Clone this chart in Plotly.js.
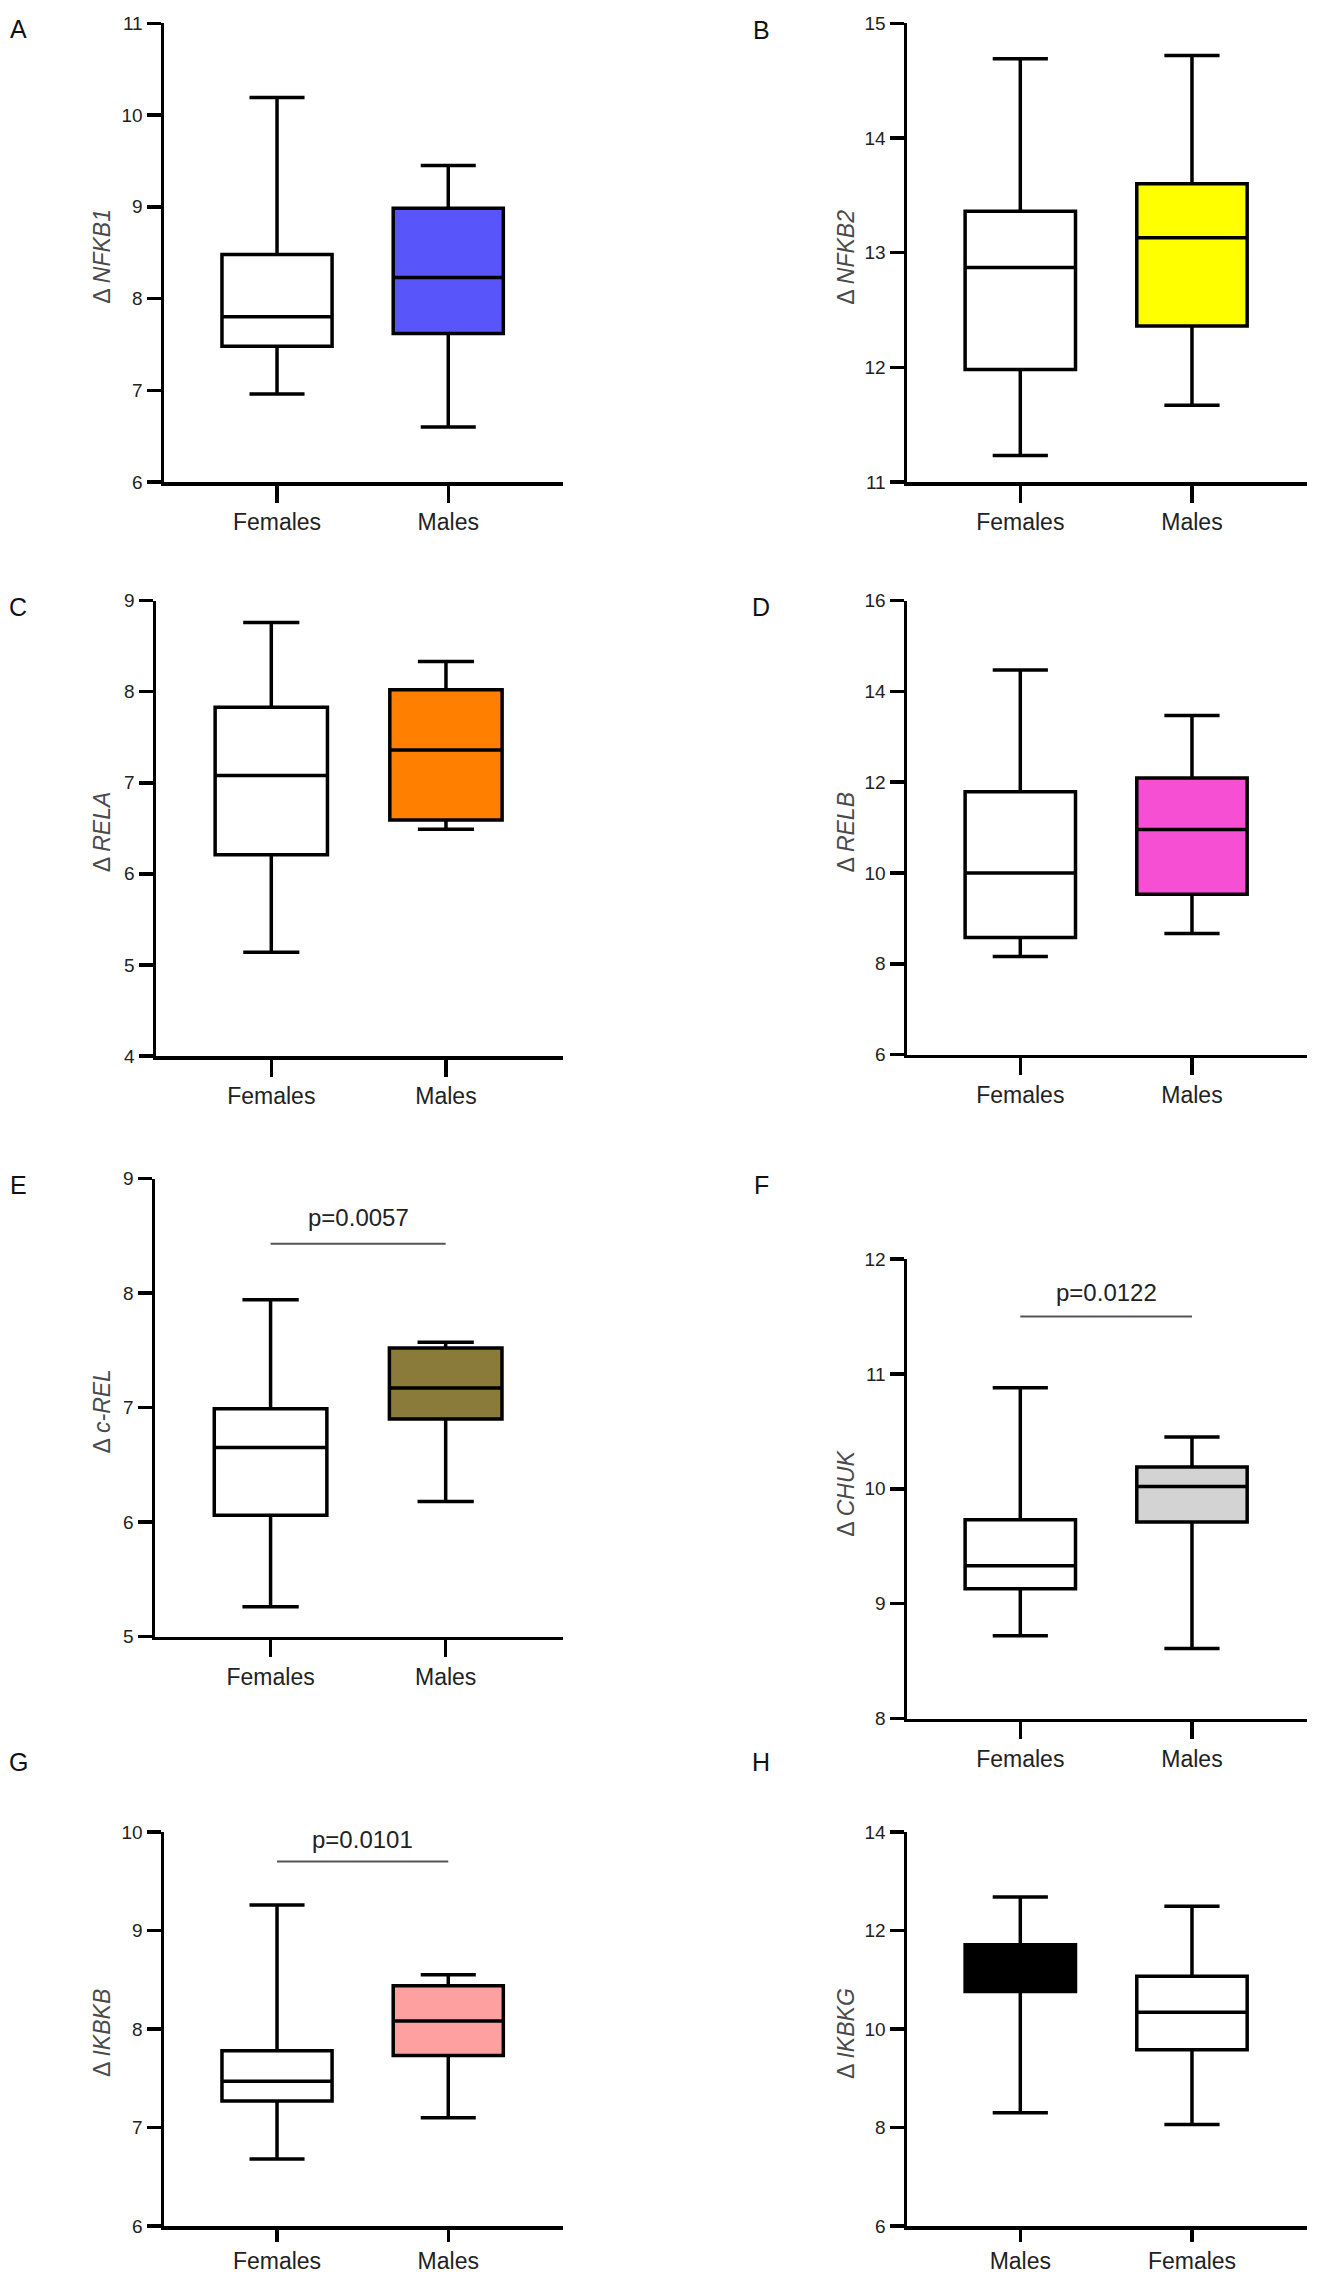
<!DOCTYPE html>
<html>
<head>
<meta charset="utf-8">
<script src="https://cdn.plot.ly/plotly-3.0.1.min.js"></script>
<style>
  html, body { margin: 0; padding: 0; background: #fff; }
  #chart { width: 1318px; height: 2275px; }
</style>
</head>
<body>
<div id="chart"></div>
<script>
// panel data
const panelLetters = ["A", "B", "C", "D", "E", "F", "G", "H"];
const genes = ["NFKB1", "NFKB2", "RELA", "RELB", "c-REL", "CHUK", "IKBKB", "IKBKG"];
const groupOrder = [
  ["Females", "Males"], ["Females", "Males"], ["Females", "Males"], ["Females", "Males"],
  ["Females", "Males"], ["Females", "Males"], ["Females", "Males"], ["Males", "Females"]
];

const femalesLow  = [6.96, 11.23, 5.14, 8.16, 5.26, 8.72, 6.68, 8.06];
const femalesQ1   = [7.48, 11.98, 6.21, 8.58, 6.06, 9.13, 7.27, 9.58];
const femalesMed  = [7.80, 12.87, 7.08, 10.00, 6.65, 9.33, 7.47, 10.34];
const femalesQ3   = [8.48, 13.36, 7.83, 11.79, 6.99, 9.73, 7.78, 11.07];
const femalesHigh = [10.19, 14.69, 8.76, 14.47, 7.94, 10.88, 9.26, 12.49];

const malesLow  = [6.60, 11.67, 6.49, 8.67, 6.18, 8.61, 7.10, 8.30];
const malesQ1   = [7.62, 12.36, 6.59, 9.53, 6.90, 9.71, 7.73, 10.76];
const malesMed  = [8.23, 13.13, 7.36, 10.96, 7.17, 10.02, 8.08, 11.20];
const malesQ3   = [8.985, 13.60, 8.02, 12.09, 7.52, 10.19, 8.44, 11.71];
const malesHigh = [9.45, 14.72, 8.33, 13.47, 7.57, 10.45, 8.55, 12.68];

const malesFill = ["#5855fb", "#ffff00", "#ff8000", "#f64fd4", "#8b7b3a", "#d3d3d3", "#ffa0a0", "#000000"];

const yMin  = [6, 11, 4, 6, 5, 8, 6, 6];
const yMax  = [11, 15, 9, 16, 9, 12, 10, 14];
const yStep = [1, 1, 1, 2, 1, 1, 1, 2];

const pText  = [null, null, null, null, "p=0.0057", "p=0.0122", "p=0.0101", null];
const pLineY = [null, null, null, null, 8.43, 11.50, 9.70, null];
const pTextY = [null, null, null, null, 8.66, 11.71, 9.92, null];

// layout geometry in pixels: [axis x, axis end x, top tick y, bottom tick y, x tick length]
const W = 1318, H = 2275;
const panelPx = [
  [164, 563, 23.3, 482, 17],
  [907, 1307, 23.3, 482, 17],
  [156, 563, 600.6, 1056, 17],
  [907, 1307, 600.6, 1054.6, 17],
  [155, 563, 1178.5, 1636.5, 17],
  [907, 1307, 1259, 1718.5, 17],
  [164, 563, 1832, 2226, 12],
  [907, 1307, 1832, 2226, 12]
];
const titleX = [102, 846];
const letterPos = [[18, 29], [761, 30], [18, 607], [761, 607], [18, 1185], [761, 1185], [18, 1762], [761, 1762]];

const fontFam = "Liberation Sans, Arial, sans-serif";
const lineW = 3.5;
const xRange = [-0.66, 1.67];

const traces = [];
const layout = {
  width: W,
  height: H,
  margin: {l: 0, r: 0, t: 0, b: 0},
  paper_bgcolor: "#fff",
  plot_bgcolor: "rgba(0,0,0,0)",
  showlegend: false,
  boxmode: "overlay",
  font: {family: fontFam, color: "#222"},
  annotations: [],
  shapes: []
};

const boxTrace = (xa, ya, name, low, q1, med, q3, high, fill) => ({
  type: "box",
  x: [name],
  q1: [q1], median: [med], q3: [q3],
  lowerfence: [low], upperfence: [high],
  xaxis: xa, yaxis: ya,
  width: 0.643,
  whiskerwidth: 0.5,
  fillcolor: fill,
  line: {color: "#000", width: lineW},
  boxpoints: false,
  hoverinfo: "skip"
});

for (let i = 0; i < genes.length; i++) {
  const n = i === 0 ? "" : String(i + 1);
  const xa = "x" + n, ya = "y" + n;
  const [x0, x1, yt, yb, tl] = panelPx[i];

  for (const grp of groupOrder[i]) {
    if (grp === "Females") {
      traces.push(boxTrace(xa, ya, grp, femalesLow[i], femalesQ1[i], femalesMed[i], femalesQ3[i], femalesHigh[i], "#ffffff"));
    } else {
      traces.push(boxTrace(xa, ya, grp, malesLow[i], malesQ1[i], malesMed[i], malesQ3[i], malesHigh[i], malesFill[i]));
    }
  }

  layout["xaxis" + n] = {
    domain: [x0 / W, x1 / W],
    anchor: ya,
    type: "category",
    categoryorder: "array",
    categoryarray: groupOrder[i],
    range: xRange,
    fixedrange: true,
    showline: true, linecolor: "#000", linewidth: lineW,
    ticks: "outside", ticklen: tl, tickwidth: lineW, tickcolor: "#000",
    tickfont: {size: 23, color: "#222", family: fontFam},
    showgrid: false, zeroline: false
  };
  layout["yaxis" + n] = {
    domain: [1 - yb / H, 1 - yt / H],
    anchor: xa,
    range: [yMin[i], yMax[i]],
    tick0: yMin[i], dtick: yStep[i],
    fixedrange: true,
    showline: true, linecolor: "#000", linewidth: lineW,
    ticks: "outside", ticklen: 14, tickwidth: lineW, tickcolor: "#000",
    tickfont: {size: 19, color: "#222", family: fontFam},
    showgrid: false, zeroline: false
  };

  // y axis title
  layout.annotations.push({
    xref: "paper", yref: "paper",
    x: titleX[i % 2] / W, y: 1 - ((yt + yb) / 2 + 4) / H,
    text: "\u0394 <i>" + genes[i] + "</i>",
    textangle: -90, showarrow: false,
    xanchor: "center", yanchor: "middle",
    font: {size: 23, color: "#4a4a4a", family: fontFam}
  });

  // panel letter
  layout.annotations.push({
    xref: "paper", yref: "paper",
    x: letterPos[i][0] / W, y: 1 - letterPos[i][1] / H,
    text: panelLetters[i], showarrow: false,
    xanchor: "center", yanchor: "middle",
    font: {size: 25, color: "#111", family: fontFam}
  });

  if (pText[i]) {
    layout.shapes.push({
      type: "line", xref: xa, yref: ya,
      x0: 0, x1: 1, y0: pLineY[i], y1: pLineY[i],
      line: {color: "#555", width: 2}
    });
    layout.annotations.push({
      xref: xa, yref: ya,
      x: 0.5, y: pTextY[i],
      text: pText[i], showarrow: false,
      xanchor: "center", yanchor: "middle",
      font: {size: 24, color: "#222", family: fontFam}
    });
  }
}

Plotly.newPlot("chart", traces, layout, {staticPlot: true});
</script>
</body>
</html>
